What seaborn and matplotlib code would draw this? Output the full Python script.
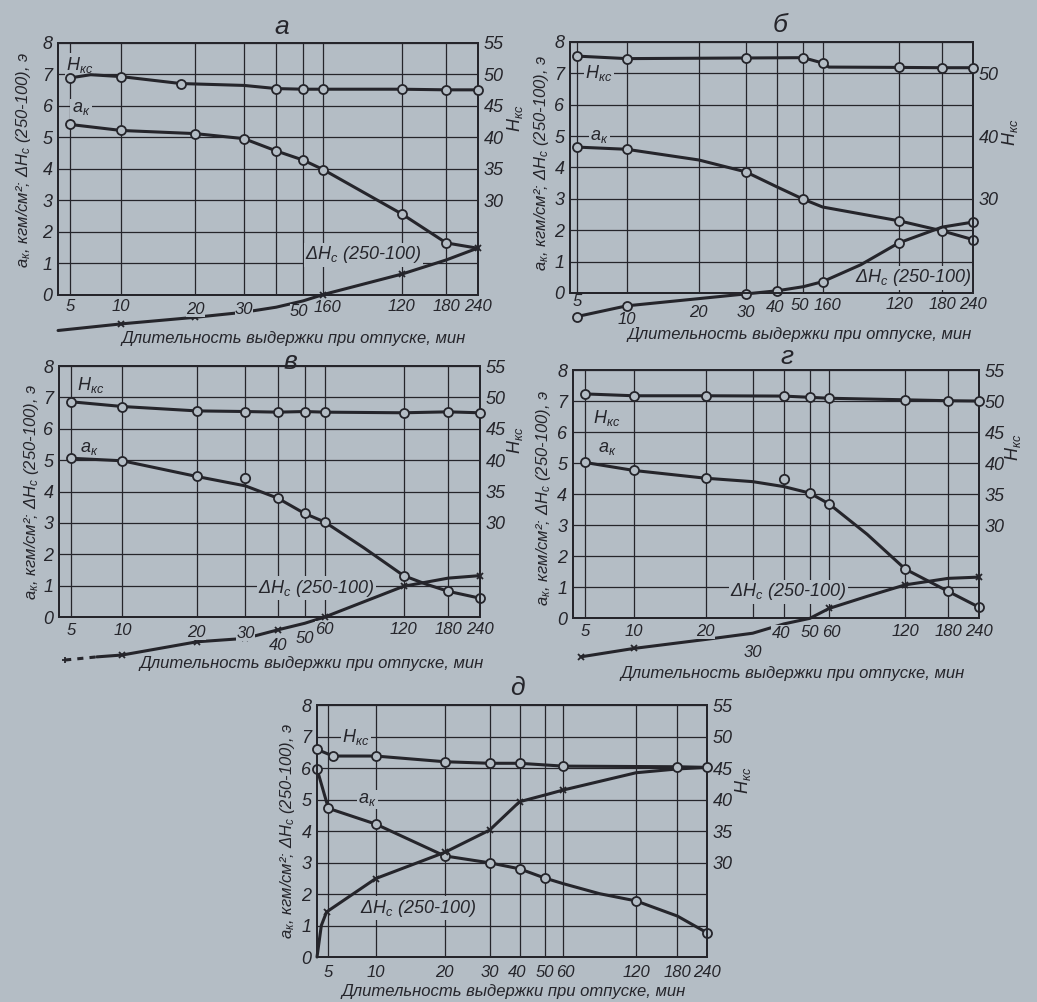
import numpy as np
import seaborn as sns
import matplotlib.pyplot as plt
from matplotlib.transforms import offset_copy

# ---- DATA ----
# hardness H_кс on the right axis, a_k and ΔH_c on the left axis, time in minutes

# panel а
A_H_T = [5, 7, 10, 18, 30, 40, 50, 60, 120, 180, 240]
A_H = [49.4, 49.9, 49.6, 48.5, 48.2, 47.7, 47.6, 47.6, 47.6, 47.5, 47.5]
A_AK_T = [5, 10, 20, 30, 40, 50, 60, 120, 180, 240]
A_AK = [5.40, 5.21, 5.11, 4.95, 4.56, 4.27, 3.97, 2.56, 1.64, 1.47]
A_DH_T = [0, 10, 20, 30, 40, 50, 60, 120, 180, 240]
A_DH = [-1.14, -0.93, -0.72, -0.56, -0.40, -0.20, 0.0, 0.65, 1.10, 1.48]

# panel б
B_H_T = [5, 10, 30, 50, 60, 65, 120, 180, 240]
B_H = [52.75, 52.35, 52.45, 52.5, 51.65, 51.0, 50.95, 50.9, 50.9]
B_AK_T = [5, 10, 20, 30, 40, 50, 60, 120, 180, 240]
B_AK = [4.65, 4.58, 4.24, 3.86, 3.38, 2.99, 2.74, 2.30, 1.98, 1.70]
B_DH_T = [5, 10, 30, 40, 50, 60, 90, 120, 180, 240]
B_DH = [-0.75, -0.41, -0.03, 0.07, 0.20, 0.36, 0.90, 1.60, 2.10, 2.26]

# panel в
C_H_T = [5, 10, 20, 30, 40, 50, 60, 120, 180, 240]
C_H = [49.3, 48.55, 47.85, 47.75, 47.65, 47.75, 47.65, 47.55, 47.7, 47.55]
C_AK_T = [5, 10, 20, 30, 40, 50, 60, 90, 120, 150, 180, 240]
C_AK = [5.06, 4.98, 4.48, 4.18, 3.79, 3.30, 3.03, 2.20, 1.32, 1.05, 0.82, 0.60]
C_AK_OFF_T = [30]
C_AK_OFF = [4.42]
C_DH_DASH_T = [2.5, 7.5]
C_DH_DASH = [-1.37, -1.27]
C_DH_T = [7.5, 10, 20, 30, 40, 50, 60, 120, 180, 240]
C_DH = [-1.27, -1.21, -0.79, -0.68, -0.41, -0.20, 0.0, 0.98, 1.24, 1.32]

# panel г
D_H_T = [5, 10, 20, 40, 50, 60, 120, 180, 240]
D_H = [51.15, 50.85, 50.85, 50.8, 50.6, 50.45, 50.2, 50.05, 50.0]
D_AK_T = [5, 10, 20, 30, 40, 50, 60, 90, 120, 180, 240]
D_AK = [5.02, 4.76, 4.51, 4.40, 4.24, 4.03, 3.68, 2.70, 1.58, 0.86, 0.35]
D_AK_OFF_T = [40]
D_AK_OFF = [4.48]
D_DH_T = [3.5, 10, 20, 30, 40, 50, 60, 90, 120, 180, 240]
D_DH = [-1.25, -0.98, -0.69, -0.49, -0.19, -0.01, 0.31, 0.70, 1.07, 1.28, 1.32]

# panel д
E_H_T = [0, 5.5, 10, 20, 30, 40, 60, 180, 240]
E_H = [47.95, 46.9, 46.9, 46.0, 45.75, 45.75, 45.3, 45.2, 45.1]
E_AK_T = [0, 5, 10, 20, 30, 40, 50, 60, 90, 120, 180, 240]
E_AK = [5.97, 4.72, 4.22, 3.21, 2.99, 2.80, 2.51, 2.33, 2.01, 1.78, 1.30, 0.77]
E_DH_T = [0, 1.9, 4.2, 10, 20, 30, 40, 50, 60, 120, 180, 240]
E_DH = [0, 1.0, 1.43, 2.49, 3.32, 4.03, 4.93, 5.14, 5.30, 5.85, 5.97, 6.02]

TIME_TICKS = [5, 10, 20, 30, 40, 50, 60, 120, 180, 240]
LEFT_TICKS = [0, 1, 2, 3, 4, 5, 6, 7, 8]
RIGHT_TICKS = [30, 35, 40, 45, 50, 55]

XLABEL = "Длительность выдержки при отпуске, мин"
YLABEL = "a$_к$, кгм/см²; ΔH$_c$ (250-100), э"
HLABEL = "H$_{кс}$"
AKLABEL = "a$_к$"
DHLABEL = "ΔH$_c$ (250-100)"

# the time axis of the book is hand drawn: where each tick sits along the axis
SCALE_T = [0, 5, 10, 20, 30, 40, 50, 60, 120, 180, 240]
SCALE_POS = [-0.03, 0, 0.125, 0.307, 0.426, 0.505, 0.571, 0.62, 0.813, 0.922, 1.0]

PAPER = "#b4bdc5"
INK = "#25252b"
FONT = "Liberation Sans"


def fwd(t):
    return np.interp(t, SCALE_T, SCALE_POS)


def inv(p):
    return np.interp(p, SCALE_POS, SCALE_T)


sns.set_theme(style="ticks")
plt.rcParams["font.family"] = [FONT, "DejaVu Sans"]
plt.rcParams["font.style"] = "italic"
plt.rcParams["mathtext.fontset"] = "custom"
plt.rcParams["mathtext.it"] = FONT + ":italic"
plt.rcParams["mathtext.rm"] = FONT + ":italic"
plt.rcParams["mathtext.default"] = "it"
plt.rcParams["text.color"] = INK
plt.rcParams["axes.edgecolor"] = INK
plt.rcParams["xtick.color"] = INK
plt.rcParams["ytick.color"] = INK

fig = plt.figure(figsize=(10.37, 10.02), dpi=100, facecolor=PAPER)


def curve(ax, t, v, marker="o", marks=None, ls="-"):
    sns.lineplot(x=t, y=v, ax=ax, sort=False, estimator=None, legend=False,
                 color=INK, lw=2.2, linestyle=ls, marker=marker, markevery=marks,
                 ms=6.5 if marker == "o" else 5, mfc=PAPER, mec=INK, mew=1.3,
                 clip_on=False, zorder=5)


def loose_points(ax, t, v):
    sns.scatterplot(x=t, y=v, ax=ax, marker="o", s=45, facecolor=PAPER,
                    edgecolor=INK, linewidth=1.3, clip_on=False, zorder=6, legend=False)


def setup(rect, title, title_xy, tick_text, tick_off, xlab_xy, ylab_xy, hlab_xy,
          right_ticks=RIGHT_TICKS, left_t=0, tick_dx=None):
    tick_dx = tick_dx or {}
    ax = fig.add_axes(rect)
    ax.set_facecolor(PAPER)
    ax.set_xscale("function", functions=(fwd, inv))
    ax.set_xlim(left_t, 240)
    ax.set_ylim(0, 8)
    ax.set_xticks(TIME_TICKS)
    ax.set_xticklabels([])
    ax.set_yticks(LEFT_TICKS)
    ax.set_yticklabels([str(v) for v in LEFT_TICKS], fontsize=13)
    ax.tick_params(length=0, pad=4)
    ax.grid(True, color=INK, lw=0.9)
    for s in ax.spines.values():
        s.set_linewidth(1.4)
        s.set_color(INK)

    # tick labels of the time axis, each at its own depth as in the print
    for t, txt, off in zip(TIME_TICKS, tick_text, tick_off):
        if not txt:
            continue
        tr = offset_copy(ax.get_xaxis_transform(), fig=fig, x=tick_dx.get(txt, 0),
                         y=-off, units="dots")
        ax.text(t, 0, txt, transform=tr, ha="center", va="center", fontsize=12,
                bbox=dict(facecolor=PAPER, edgecolor="none", pad=0.1), zorder=7,
                clip_on=False)

    ax.text(*title_xy, title, transform=ax.transAxes, ha="center", va="center",
            fontsize=19)
    ax.text(*xlab_xy, XLABEL, transform=ax.transAxes, ha="center", va="center",
            fontsize=12)
    ax.text(*ylab_xy, YLABEL, transform=ax.transAxes, ha="center", va="center",
            rotation=90, fontsize=12)

    ax2 = ax.twinx()
    ax2.set_ylim(15, 55)
    ax2.set_yticks(right_ticks)
    ax2.set_yticklabels([str(v) for v in right_ticks], fontsize=13)
    ax2.tick_params(length=0, pad=4)
    ax2.grid(False)
    for s in ax2.spines.values():
        s.set_linewidth(1.4)
        s.set_color(INK)
    ax2.text(*hlab_xy, HLABEL, transform=ax2.transAxes, ha="center", va="center",
             rotation=90, fontsize=13)
    return ax, ax2


def label(ax, x, y, txt):
    ax.text(x, y, txt, transform=ax.get_yaxis_transform(), ha="left", va="center",
            fontsize=13, zorder=4,
            bbox=dict(facecolor=PAPER, edgecolor="none", pad=1.0))


# ---- а ----
ax, ax2 = setup([0.056, 0.706, 0.405, 0.2515], "а", (0.533, 1.06),
                ["5", "10", "20", "30", "", "50", "160", "120", "180", "240"],
                [12, 12, 15, 15, 0, 17, 13, 12, 12, 12],
                (0.56, -0.175), (-0.082, 0.536), (1.088, 0.70),
                tick_dx={"50": -4, "160": 4})
curve(ax2, A_H_T, A_H, marks=[0, 2, 3, 5, 6, 7, 8, 9, 10])
curve(ax, A_AK_T, A_AK, marks=[0, 1, 2, 3, 4, 5, 6, 7, 8])
curve(ax, A_DH_T, A_DH, marker="x", marks=[1, 2, 3, 6, 7, 9])
label(ax, 0.02, 7.3, HLABEL)
label(ax, 0.033, 5.9, AKLABEL)
label(ax, 0.588, 1.27, DHLABEL)

# ---- б ----
ax, ax2 = setup([0.5497, 0.7076, 0.3886, 0.2505], "б", (0.521, 1.068),
                ["5", "10", "20", "30", "40", "50", "160", "120", "180", "240"],
                [9, 27, 20, 20, 15, 13, 13, 12, 12, 12],
                (0.57, -0.165), (-0.072, 0.518), (1.092, 0.64),
                right_ticks=[30, 40, 50], left_t=2,
                tick_dx={"40": -2, "50": -3, "160": 5})
curve(ax2, B_H_T, B_H, marks=[0, 1, 2, 3, 4, 6, 7, 8])
curve(ax, B_AK_T, B_AK, marks=[0, 1, 3, 5, 7, 8, 9])
curve(ax, B_DH_T, B_DH, marks=[0, 1, 2, 3, 5, 7, 9])
label(ax, 0.037, 7.0, HLABEL)
label(ax, 0.05, 5.0, AKLABEL)
label(ax, 0.707, 0.48, DHLABEL)

# ---- в ----
ax, ax2 = setup([0.0569, 0.3842, 0.406, 0.2505], "в", (0.549, 1.018),
                ["5", "10", "20", "30", "40", "50", "60", "120", "180", "240"],
                [13, 13, 15, 16, 28, 21, 12, 12, 12, 12],
                (0.6, -0.187), (-0.066, 0.498), (1.083, 0.705))
curve(ax2, C_H_T, C_H)
curve(ax, C_AK_T, C_AK, marks=[0, 1, 2, 4, 5, 6, 8, 10, 11])
loose_points(ax, C_AK_OFF_T, C_AK_OFF)
curve(ax, C_DH_DASH_T, C_DH_DASH, marker="+", marks=[0], ls=(0, (2, 2)))
curve(ax, C_DH_T, C_DH, marker="x", marks=[1, 2, 3, 4, 6, 7, 9])
label(ax, 0.043, 7.4, HLABEL)
label(ax, 0.05, 5.38, AKLABEL)
label(ax, 0.473, 0.92, DHLABEL)

# ---- г ----
ax, ax2 = setup([0.5525, 0.3832, 0.3915, 0.2475], "г", (0.527, 1.052),
                ["5", "10", "20", "30", "40", "50", "60", "120", "180", "240"],
                [13, 13, 13, 34, 15, 14, 14, 13, 13, 13],
                (0.54, -0.222), (-0.072, 0.484), (1.084, 0.69),
                tick_dx={"40": -3, "60": 2})
curve(ax2, D_H_T, D_H)
curve(ax, D_AK_T, D_AK, marks=[0, 1, 2, 5, 6, 8, 9, 10])
loose_points(ax, D_AK_OFF_T, D_AK_OFF)
curve(ax, D_DH_T, D_DH, marker="x", marks=[0, 1, 6, 8, 10])
label(ax, 0.049, 6.45, HLABEL)
label(ax, 0.062, 5.48, AKLABEL)
label(ax, 0.387, 0.85, DHLABEL)

# ---- д ----
ax, ax2 = setup([0.3057, 0.0449, 0.376, 0.2515], "д", (0.513, 1.067),
                ["5", "10", "20", "30", "40", "50", "60", "120", "180", "240"],
                [15] * 10,
                (0.505, -0.135), (-0.076, 0.5), (1.092, 0.70),
                tick_dx={"40": -2, "60": 2})
curve(ax2, E_H_T, E_H)
curve(ax, E_AK_T, E_AK, marks=[0, 1, 2, 3, 4, 5, 6, 9, 11])
curve(ax, E_DH_T, E_DH, marker="x", marks=[2, 3, 4, 5, 6, 8])
label(ax, 0.064, 7.0, HLABEL)
label(ax, 0.105, 5.0, AKLABEL)
label(ax, 0.11, 1.55, DHLABEL)

fig.savefig("out.png", dpi=100, facecolor=PAPER)
